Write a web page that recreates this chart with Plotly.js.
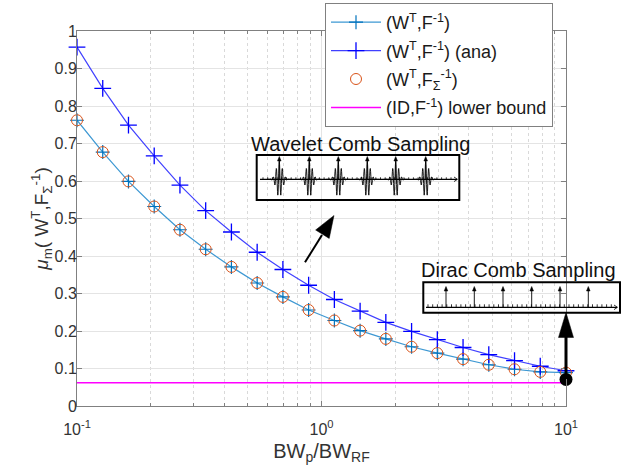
<!DOCTYPE html>
<html>
<head>
<meta charset="utf-8">
<script src="https://cdn.plot.ly/plotly-3.0.1.min.js"></script>
<style>html,body{margin:0;padding:0;background:#fff;}</style>
</head>
<body>
<div id="chart" style="width:639px;height:469px;"></div>
<script>
// ---- data ----
const bwRatio = [0.1, 0.12743, 0.16238, 0.20691, 0.26367, 0.33598, 0.42813, 0.54556, 0.69519, 0.88587,
                 1.12884, 1.43845, 1.83298, 2.33572, 2.97635, 3.79269, 4.83293, 6.15848, 7.84760, 10];
const muWFinv = [0.762, 0.677, 0.599, 0.532, 0.470, 0.418, 0.371, 0.328, 0.291, 0.256,
                 0.228, 0.201, 0.179, 0.158, 0.141, 0.125, 0.110, 0.098, 0.091, 0.089];
const muWFinvAna = [0.957, 0.847, 0.749, 0.667, 0.589, 0.521, 0.464, 0.410, 0.364, 0.322,
                    0.284, 0.253, 0.223, 0.199, 0.177, 0.156, 0.137, 0.121, 0.106, 0.094];
const muWFsigma = [0.762, 0.677, 0.599, 0.532, 0.470, 0.418, 0.371, 0.328, 0.291, 0.256,
                   0.228, 0.201, 0.179, 0.158, 0.141, 0.125, 0.110, 0.098, 0.091, 0.089];
const boundX = [0.1, 10];
const boundY = [0.062, 0.062];
const diracPointX = [10];
const diracPointY = [0.071];
const xTickVals = [0.1, 1, 10];
const xTickText = ['10<sup>-1</sup>', '10<sup>0</sup>', '10<sup>1</sup>'];
const xMinorVals = [0.2,0.3,0.4,0.5,0.6,0.7,0.8,0.9,2,3,4,5,6,7,8,9];
const seriesNames = ['(W<sup>T</sup>,F<sup>-1</sup>)', '(W<sup>T</sup>,F<sup>-1</sup>) (ana)',
                     '(W<sup>T</sup>,F<sub>Σ</sub><sup>-1</sup>)', '(ID,F<sup>-1</sup>) lower bound'];

// ---- geometry helpers (pixel -> paper) ----
const L = 77, R = 566, T = 31, B = 406;
const PX = p => (p - L) / (R - L);
const PY = p => (B - p) / (B - T);
const pt = (x, y) => PX(x).toFixed(5) + ',' + PY(y).toFixed(5);

const shapes = [];
function pathShape(d, opts) {
  shapes.push(Object.assign({type: 'path', xref: 'paper', yref: 'paper', path: d,
    line: {color: 'black', width: 1}}, opts || {}));
}
function seg(x0, y0, x1, y1, w) {
  shapes.push({type: 'line', xref: 'paper', yref: 'paper', x0: PX(x0), y0: PY(y0), x1: PX(x1), y1: PY(y1),
    line: {color: 'black', width: w}});
}
function head(tipX, tipY, tailX, tailY, len, half) {
  const dx = tipX - tailX, dy = tipY - tailY, n = Math.hypot(dx, dy);
  const ux = dx / n, uy = dy / n;
  const bx = tipX - ux * len, by = tipY - uy * len;
  const d = 'M' + pt(bx - uy * half, by + ux * half) + 'L' + pt(tipX, tipY) + 'L' + pt(bx + uy * half, by - ux * half) + 'Z';
  pathShape(d, {fillcolor: 'black', line: {color: 'black', width: 0.5}});
}

// Wavelet comb inset
shapes.push({type: 'rect', xref: 'paper', yref: 'paper', x0: PX(256.7), y0: PY(200), x1: PX(459.3), y1: PY(155),
  line: {color: 'black', width: 2}});
seg(260, 179.3, 457, 179.3, 1.2);
pathShape('M' + pt(454, 177) + 'L' + pt(457.5, 179.3) + 'L' + pt(454, 181.6), {line: {color: 'black', width: 0.8}});
(function () {
  let d = '';
  for (let x = 263; x < 455; x += 4.7) d += 'M' + pt(x, 179.3) + 'L' + pt(x, 177.3);
  pathShape(d, {line: {color: 'black', width: 0.8}});
})();
[279.3, 309.3, 338.3, 367.3, 395.7, 425.7].forEach(c => {
  let d = '';
  for (let t = -12; t <= 12.001; t += 0.3) {
    const env = Math.exp(-(t / 4.2) * (t / 4.2));
    const y = 179.3 - 18 * env * Math.cos(2 * Math.PI * t / 3.0);
    d += (d ? 'L' : 'M') + pt(c + t, y);
  }
  pathShape(d, {line: {color: 'black', width: 0.9}});
  seg(c, 179.3, c, 160, 0.9);
  head(c, 156.5, c, 179.3, 4.5, 1.8);
});

// Dirac comb inset
shapes.push({type: 'rect', xref: 'paper', yref: 'paper', x0: PX(423.3), y0: PY(312.7), x1: PX(620), y1: PY(282.3),
  line: {color: 'black', width: 2}});
seg(426, 307.3, 617, 307.3, 1.2);
pathShape('M' + pt(614, 305) + 'L' + pt(617.5, 307.3) + 'L' + pt(614, 309.6), {line: {color: 'black', width: 0.8}});
(function () {
  let d = '';
  for (let x = 428; x < 613; x += 4.7) d += 'M' + pt(x, 307.3) + 'L' + pt(x, 304.3);
  pathShape(d, {line: {color: 'black', width: 0.8}});
})();
[446, 474.3, 503, 531.7, 560, 588.3].forEach(c => {
  seg(c, 307.3, c, 290, 0.9);
  head(c, 286.5, c, 307.3, 4.5, 1.8);
});

// Big arrows
seg(566, 379, 566, 334, 3);
head(566, 312.5, 566, 379, 25, 7.5);
seg(305, 262.3, 322, 235, 2);
head(334, 215.5, 305, 262.3, 22, 8);

const font = 'Liberation Sans, Arial, Helvetica, sans-serif';

const traces = [
  {x: bwRatio, y: muWFinv, name: seriesNames[0], legendgroup: 'a', type: 'scatter', mode: 'lines+markers', cliponaxis: false,
   line: {color: '#3d98d3', width: 1.2},
   marker: {symbol: 'cross-thin', size: 10, color: '#0072BD', line: {color: '#0072BD', width: 1.2}}},
  {x: bwRatio, y: muWFinvAna, name: seriesNames[1], legendgroup: 'b', type: 'scatter', mode: 'lines+markers', cliponaxis: false,
   line: {color: '#4040ff', width: 1.2},
   marker: {symbol: 'cross-thin', size: 12, color: '#0000ff', line: {color: '#0000ff', width: 1.3}}},
  {x: bwRatio, y: muWFsigma, name: seriesNames[2], legendgroup: 'c', type: 'scatter', mode: 'markers', cliponaxis: false,
   marker: {symbol: 'circle-open', size: 11, color: '#D95319', line: {color: '#D95319', width: 1}}},
  {x: boundX, y: boundY, name: seriesNames[3], legendgroup: 'd', type: 'scatter', mode: 'lines', cliponaxis: false,
   line: {color: '#ff00ff', width: 1.5}},
  {x: diracPointX, y: diracPointY, type: 'scatter', mode: 'markers', showlegend: false, cliponaxis: false,
   marker: {symbol: 'circle', size: 13, color: 'black'}}
];

const layout = {
  width: 639, height: 469,
  margin: {l: L, r: 639 - R, t: T, b: 469 - B, pad: 0, autoexpand: false},
  paper_bgcolor: '#ffffff', plot_bgcolor: '#ffffff',
  font: {family: font, size: 16, color: '#333333'},
  showlegend: true,
  legend: {x: PX(325), y: PY(3), xanchor: 'left', yanchor: 'top', bgcolor: '#ffffff', itemwidth: 50,
           traceorder: 'grouped', tracegroupgap: 2,
           bordercolor: '#808080', borderwidth: 1, font: {family: font, size: 18, color: '#1a1a1a'}},
  xaxis: {
    type: 'log', range: [-1, 1], tickmode: 'array', tickvals: xTickVals, ticktext: xTickText,
    ticks: 'inside', ticklen: 5, tickcolor: '#808080', showline: true, linecolor: '#808080', linewidth: 1,
    mirror: 'ticks', showgrid: true, gridcolor: '#e4e4e4', zeroline: false, ticklabelstandoff: 9,
    tickfont: {family: font, size: 16, color: '#333333'},
    minor: {tickmode: 'array', tickvals: xMinorVals, ticks: 'inside', ticklen: 3, tickcolor: '#808080',
            showgrid: true, gridcolor: '#d9d9d9', griddash: 'dot', gridwidth: 1},
    title: {text: 'BW<sub>p</sub>/BW<sub>RF</sub>', font: {family: font, size: 20, color: '#333333'}, standoff: 6}
  },
  yaxis: {
    range: [0, 1], tick0: 0, dtick: 0.1, ticks: 'inside', ticklen: 5, tickcolor: '#808080',
    showline: true, linecolor: '#808080', linewidth: 1, mirror: 'ticks',
    showgrid: true, gridcolor: '#e4e4e4', zeroline: false, ticklabelstandoff: -4,
    tickfont: {family: font, size: 16, color: '#333333'},
    title: {text: '<i>μ</i><sub>m</sub>( W<sup>T</sup>,F<sub>Σ</sub><sup>-1</sup>)',
            font: {family: font, size: 19, color: '#333333'}, standoff: 0}
  },
  shapes: shapes,
  annotations: [
    {xref: 'paper', yref: 'paper', x: PX(360), y: PY(143.8), text: 'Wavelet Comb Sampling', showarrow: false,
     xanchor: 'center', yanchor: 'middle', font: {family: font, size: 20, color: '#111111'}},
    {xref: 'paper', yref: 'paper', x: PX(518.4), y: PY(270), text: 'Dirac Comb Sampling', showarrow: false,
     xanchor: 'center', yanchor: 'middle', font: {family: font, size: 20, color: '#111111'}}
  ]
};

Plotly.newPlot('chart', traces, layout, {displayModeBar: false, staticPlot: true});
</script>
</body>
</html>
